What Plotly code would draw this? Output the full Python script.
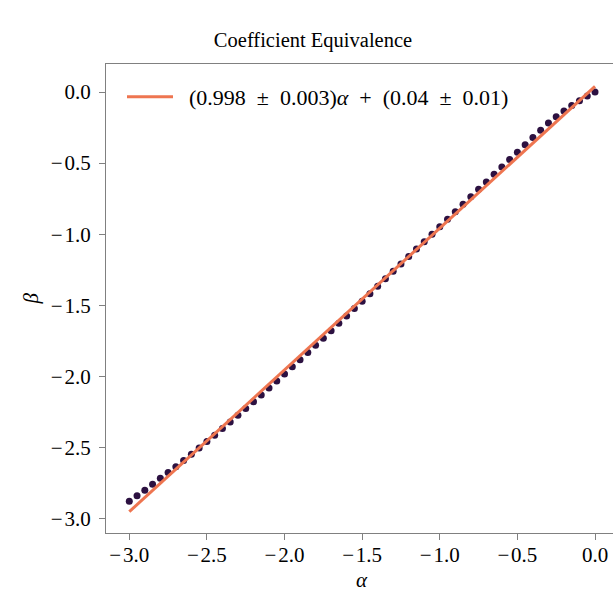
import plotly.graph_objects as go

# ---- data ----
alpha = [-3.00, -2.95, -2.90, -2.85, -2.80, -2.75, -2.70, -2.65, -2.60, -2.55,
         -2.50, -2.45, -2.40, -2.35, -2.30, -2.25, -2.20, -2.15, -2.10, -2.05,
         -2.00, -1.95, -1.90, -1.85, -1.80, -1.75, -1.70, -1.65, -1.60, -1.55,
         -1.50, -1.45, -1.40, -1.35, -1.30, -1.25, -1.20, -1.15, -1.10, -1.05,
         -1.00, -0.95, -0.90, -0.85, -0.80, -0.75, -0.70, -0.65, -0.60, -0.55,
         -0.50, -0.45, -0.40, -0.35, -0.30, -0.25, -0.20, -0.15, -0.10, -0.05,
         0.00]
beta = [-2.880, -2.842, -2.803, -2.761, -2.718, -2.678, -2.637, -2.593, -2.549, -2.505,
        -2.460, -2.415, -2.369, -2.322, -2.275, -2.228, -2.180, -2.132, -2.083, -2.034,
        -1.984, -1.934, -1.884, -1.833, -1.782, -1.732, -1.680, -1.628, -1.576, -1.524,
        -1.472, -1.419, -1.367, -1.314, -1.262, -1.210, -1.158, -1.105, -1.053, -1.000,
        -0.948, -0.895, -0.842, -0.789, -0.736, -0.684, -0.632, -0.579, -0.527, -0.475,
        -0.423, -0.371, -0.319, -0.268, -0.218, -0.174, -0.133, -0.095, -0.060, -0.028,
        0.000]
fit_slope = 0.998
fit_intercept = 0.04
fit_label = "\u2002(0.998\u2002±\u20020.003)<i>α</i>\u2002+\u2002(0.04\u2002±\u20020.01)"
x_ticks = [-3.0, -2.5, -2.0, -1.5, -1.0, -0.5, 0.0]
y_ticks = [0.0, -0.5, -1.0, -1.5, -2.0, -2.5, -3.0]

fit_x = [alpha[0], alpha[-1]]
fit_y = [fit_slope * a + fit_intercept for a in fit_x]

FONT = "Liberation Serif"
AXC = "#808080"
W, H = 613, 593
L, R, T, B = 106, 0, 64, 60
PW = W - L - R
PH = H - T - B


def fmt(v):
    s = f"{abs(v):.1f}"
    return ("−\u200a" + s) if v < 0 else s


fig = go.Figure()
fig.add_trace(go.Scatter(
    x=alpha, y=beta, mode="markers",
    marker=dict(size=7, color="#2c1141", line=dict(width=0)),
    showlegend=False,
))
fig.add_trace(go.Scatter(
    x=fit_x, y=fit_y, mode="lines",
    line=dict(color="#ee7550", width=3),
    name=fit_label,
))

fig.update_layout(
    width=W, height=H,
    margin=dict(l=L, r=R, t=T, b=B),
    paper_bgcolor="white", plot_bgcolor="white",
    font=dict(family=FONT, size=21, color="black"),
    title=dict(text="Coefficient Equivalence", x=313 / W, xref="container",
               xanchor="center", y=1 - 40 / H, yref="container", yanchor="middle",
               font=dict(family=FONT, size=20.5, color="black")),
    xaxis=dict(range=[-3.15, 0.1159], tickvals=x_ticks,
               ticktext=[fmt(v) for v in x_ticks],
               showgrid=False, zeroline=False, showline=True, linecolor=AXC,
               linewidth=1.25, mirror=True, ticks="outside", ticklen=6,
               tickcolor=AXC, tickwidth=1.25, tickfont=dict(size=21),
               ticklabelstandoff=-3),
    yaxis=dict(range=[-3.104, 0.198], tickvals=y_ticks,
               ticktext=[fmt(v) for v in y_ticks],
               showgrid=False, zeroline=False, showline=True, linecolor=AXC,
               linewidth=1.25, mirror=False, ticks="outside", ticklen=6,
               tickcolor=AXC, tickwidth=1.25, tickfont=dict(size=21),
               ticklabelstandoff=4),
    legend=dict(x=(122 - L) / PW, y=1 - (76 - T) / PH, xanchor="left",
                yanchor="top", bgcolor="rgba(0,0,0,0)", borderwidth=0,
                itemwidth=46, font=dict(family=FONT, size=22)),
    annotations=[
        dict(text="<i>α</i>", xref="paper", yref="paper", x=(362 - L) / PW,
             y=-(580 - 533) / PH, xanchor="center", yanchor="middle",
             showarrow=False, font=dict(family=FONT, size=21)),
        dict(text="<i>β</i>", xref="paper", yref="paper", x=-(L - 30) / PW,
             y=0.5, xanchor="center", yanchor="middle", textangle=-90,
             showarrow=False, font=dict(family=FONT, size=21)),
    ],
)

fig.write_html(
    "out.html",
    config={"displayModeBar": False},
    post_script="document.body.style.margin='0';document.body.style.overflow='hidden';",
)
